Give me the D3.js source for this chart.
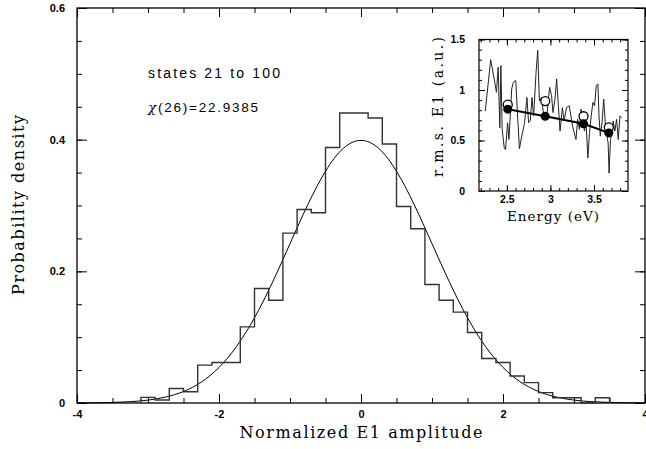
<!DOCTYPE html>
<html><head><meta charset="utf-8">
<script src="https://cdn.jsdelivr.net/npm/d3@7"></script>
<style>body{margin:0;background:#fff}svg{display:block}</style>
</head><body>
<script>
// ---- data ----
const binCenters = [-3.0,-2.8,-2.6,-2.4,-2.2,-2.0,-1.8,-1.6,-1.4,-1.2,-1.0,-0.8,-0.6,-0.4,-0.2,0.0,0.2,0.4,0.6,0.8,1.0,1.2,1.4,1.6,1.8,2.0,2.2,2.4,2.6,2.8,3.0,3.2,3.4];
const binValues  = [0.0086,0.0045,0.022,0.017,0.0576,0.0616,0.0616,0.1157,0.174,0.156,0.258,0.294,0.289,0.388,0.4405,0.4405,0.433,0.3935,0.2985,0.2647,0.18,0.156,0.138,0.107,0.0677,0.0616,0.041,0.031,0.0157,0.008,0.008,0,0.008];
const binWidth = 0.2;
const curveX = [-4,-3.75,-3.5,-3.25,-3,-2.75,-2.5,-2.25,-2,-1.75,-1.5,-1.25,-1,-0.75,-0.5,-0.25,0,0.25,0.5,0.75,1,1.25,1.5,1.75,2,2.25,2.5,2.75,3,3.25,3.5,3.75,4];
const curveY = [0.0001,0.0004,0.0009,0.0020,0.0044,0.0091,0.0175,0.0317,0.0540,0.0863,0.1295,0.1826,0.2420,0.3011,0.3521,0.3867,0.3989,0.3867,0.3521,0.3011,0.2420,0.1826,0.1295,0.0863,0.0540,0.0317,0.0175,0.0091,0.0044,0.0020,0.0009,0.0004,0.0001];
const xMajorTicks = [-4,-2,0,2,4];
const yMajorTicks = [0,0.2,0.4,0.6];
const insetE = [2.252,2.314,2.361,2.380,2.400,2.419,2.431,2.446,2.470,2.485,2.508,2.524,2.555,2.574,2.602,2.625,2.644,2.671,2.703,2.730,2.749,2.769,2.788,2.807,2.835,2.854,2.873,2.897,2.924,2.963,2.990,3.013,3.029,3.052,3.071,3.091,3.110,3.137,3.157,3.184,3.215,3.235,3.254,3.273,3.293,3.312,3.332,3.351,3.370,3.390,3.409,3.429,3.448,3.468,3.487,3.506,3.526,3.545,3.557,3.572,3.592,3.611,3.634,3.662,3.673,3.689,3.708,3.720,3.739,3.759,3.778,3.798,3.817];
const insetV = [0.79,1.30,1.077,0.977,1.226,0.626,1.243,0.610,0.426,0.410,0.676,0.510,1.010,1.077,1.093,0.710,0.420,0.543,0.676,0.926,0.676,0.693,0.926,0.743,1.176,1.393,0.893,0.926,0.743,0.777,1.027,0.943,0.777,0.910,1.110,0.843,0.593,0.826,0.693,0.826,0.843,0.743,0.643,0.576,0.510,0.710,0.610,0.810,0.726,0.593,0.676,0.326,0.576,0.743,0.877,0.843,1.043,1.060,0.743,0.543,0.676,0.910,0.610,0.476,0.177,0.510,0.576,0.693,0.593,0.710,0.510,0.743,0.726];
const openE = [2.51,2.94,3.38,3.67];
const openV = [0.855,0.89,0.74,0.63];
const fillE = [2.51,2.94,3.38,3.67];
const fillV = [0.81,0.74,0.665,0.575];
const insetXMajor = [2.5,3,3.5];
const insetYMajor = [0,0.5,1,1.5];
const insetYLabels = ["0","0.5","1","1.5"];

// ---- drawing ----
const W = 646, H = 449;
const svg = d3.select("body").append("svg").attr("width", W).attr("height", H);
const x = d3.scaleLinear().domain([-4,4]).range([77,645]);
const y = d3.scaleLinear().domain([0,0.6]).range([403,8]);
const lblFont = "'Liberation Sans', Arial, sans-serif";
const serif = "'DejaVu Serif', serif";

function styleAxis(g, fs){
  g.select(".domain").remove();
  g.selectAll(".tick line").attr("stroke","#000").attr("stroke-width",1);
  g.selectAll(".tick text").attr("font-family", lblFont).attr("font-weight","bold").attr("font-size", fs).attr("fill","#000");
}
const xMinor = d3.range(-4, 4.01, 0.5);
const yMinor = d3.range(0, 0.601, 0.05);
// minor ticks on all sides
svg.append("g").attr("transform","translate(0,403)").call(d3.axisBottom(x).tickValues(xMinor).tickSize(-5).tickFormat("")).call(styleAxis, 11);
svg.append("g").attr("transform","translate(0,8)").call(d3.axisTop(x).tickValues(xMinor).tickSize(-5).tickFormat("")).call(styleAxis, 11);
svg.append("g").attr("transform","translate(77,0)").call(d3.axisLeft(y).tickValues(yMinor).tickSize(-5).tickFormat("")).call(styleAxis, 11);
svg.append("g").attr("transform","translate(645,0)").call(d3.axisRight(y).tickValues(yMinor).tickSize(-5).tickFormat("")).call(styleAxis, 11);
// major ticks
svg.append("g").attr("transform","translate(0,403)").call(d3.axisBottom(x).tickValues(xMajorTicks).tickSize(-9).tickPadding(7).tickFormat(d=>String(d).replace("−","-"))).call(styleAxis, 11);
svg.append("g").attr("transform","translate(0,8)").call(d3.axisTop(x).tickValues(xMajorTicks).tickSize(-9).tickFormat("")).call(styleAxis, 11);
svg.append("g").attr("transform","translate(77,0)").call(d3.axisLeft(y).tickValues(yMajorTicks).tickSize(-10).tickPadding(12).tickFormat(d=>d===0?"0":d3.format(".1f")(d))).call(styleAxis, 11);
svg.append("g").attr("transform","translate(645,0)").call(d3.axisRight(y).tickValues(yMajorTicks).tickSize(-10).tickFormat("")).call(styleAxis, 11);
svg.append("rect").attr("x",77).attr("y",8).attr("width",568).attr("height",395).attr("fill","none").attr("stroke","#000").attr("stroke-width",1.3);

// Gaussian curve
svg.append("path").datum(curveX.map((v,i)=>[v,curveY[i]]))
  .attr("d", d3.line().x(d=>x(d[0])).y(d=>y(d[1])).curve(d3.curveNatural))
  .attr("fill","none").attr("stroke","#000").attr("stroke-width",1);

// histogram
const pts = [[binCenters[0]-binWidth/2, 0]];
binCenters.forEach((c,i)=>{ pts.push([c-binWidth/2, binValues[i]]); pts.push([c+binWidth/2, binValues[i]]); });
pts.push([binCenters[binCenters.length-1]+binWidth/2, 0]);
svg.append("path").datum(pts)
  .attr("d", d3.line().x(d=>x(d[0])).y(d=>y(d[1])))
  .attr("fill","none").attr("stroke","#333").attr("stroke-width",1.4);

// annotations
svg.append("text").attr("x",148).attr("y",78).attr("font-family",lblFont).attr("font-size",14)
  .attr("textLength",132).attr("lengthAdjust","spacing").text("states 21 to 100");
const chi = svg.append("text").attr("x",148).attr("y",112).attr("font-family",lblFont).attr("font-size",13.5)
  .attr("textLength",110).attr("lengthAdjust","spacing");
chi.append("tspan").attr("font-family","'DejaVu Serif', serif").attr("font-style","italic").text("χ");
chi.append("tspan").text("(26)=22.9385");

// axis titles
svg.append("text").attr("x",361).attr("y",438).attr("text-anchor","middle").attr("font-family",serif).attr("font-size",16)
  .attr("textLength",243).attr("lengthAdjust","spacing").text("Normalized E1 amplitude");
svg.append("text").attr("transform","translate(24,205) rotate(-90)").attr("text-anchor","middle").attr("font-family",serif).attr("font-size",16)
  .attr("textLength",180).attr("lengthAdjust","spacing").text("Probability density");

// ---- inset ----
const xi = d3.scaleLinear().domain([2.18,3.89]).range([479,628]);
const yi = d3.scaleLinear().domain([0,1.5]).range([191,39.5]);
svg.append("rect").attr("x",479).attr("y",39.5).attr("width",149).attr("height",151.5).attr("fill","#fff");
const xiMinor = d3.range(2.2, 3.89, 0.1);
const yiMinor = d3.range(0, 1.501, 0.1);
svg.append("g").attr("transform","translate(0,191)").call(d3.axisBottom(xi).tickValues(xiMinor).tickSize(-3).tickFormat("")).call(styleAxis,11);
svg.append("g").attr("transform","translate(0,39.5)").call(d3.axisTop(xi).tickValues(xiMinor).tickSize(-3).tickFormat("")).call(styleAxis,11);
svg.append("g").attr("transform","translate(479,0)").call(d3.axisLeft(yi).tickValues(yiMinor).tickSize(-3).tickFormat("")).call(styleAxis,11);
svg.append("g").attr("transform","translate(628,0)").call(d3.axisRight(yi).tickValues(yiMinor).tickSize(-3).tickFormat("")).call(styleAxis,11);
svg.append("g").attr("transform","translate(0,191)").call(d3.axisBottom(xi).tickValues(insetXMajor).tickSize(-6).tickPadding(5).tickFormat(d=>String(d))).call(styleAxis,10.5);
svg.append("g").attr("transform","translate(0,39.5)").call(d3.axisTop(xi).tickValues(insetXMajor).tickSize(-6).tickFormat("")).call(styleAxis,11);
svg.append("g").attr("transform","translate(479,0)").call(d3.axisLeft(yi).tickValues(insetYMajor).tickSize(-6).tickPadding(14).tickFormat((d,i)=>insetYLabels[i])).call(styleAxis,10.5);
svg.append("g").attr("transform","translate(628,0)").call(d3.axisRight(yi).tickValues(insetYMajor).tickSize(-6).tickFormat("")).call(styleAxis,11);
svg.append("rect").attr("x",479).attr("y",39.5).attr("width",149).attr("height",151.5).attr("fill","none").attr("stroke","#000").attr("stroke-width",1.2);

svg.append("path").datum(insetE.map((e,i)=>[e,insetV[i]]))
  .attr("d", d3.line().x(d=>xi(d[0])).y(d=>yi(d[1])))
  .attr("fill","none").attr("stroke","#222").attr("stroke-width",1);
svg.append("g").selectAll("circle").data(openE).join("circle")
  .attr("cx",(d)=>xi(d)).attr("cy",(d,i)=>yi(openV[i])).attr("r",4.5)
  .attr("fill","#fff").attr("stroke","#000").attr("stroke-width",1.3);
svg.append("path").datum(fillE.map((e,i)=>[e,fillV[i]]))
  .attr("d", d3.line().x(d=>xi(d[0])).y(d=>yi(d[1])))
  .attr("fill","none").attr("stroke","#000").attr("stroke-width",2);
svg.append("g").selectAll("circle").data(fillE).join("circle")
  .attr("cx",(d)=>xi(d)).attr("cy",(d,i)=>yi(fillV[i])).attr("r",4.5).attr("fill","#000");

svg.append("text").attr("x",553).attr("y",221).attr("text-anchor","middle").attr("font-family",serif).attr("font-size",13.5)
  .attr("textLength",92).attr("lengthAdjust","spacing").text("Energy (eV)");
svg.append("text").attr("transform","translate(443,107) rotate(-90)").attr("text-anchor","middle").attr("font-family",serif).attr("font-size",14)
  .attr("textLength",140).attr("lengthAdjust","spacing").text("r.m.s. E1 (a.u.)");
</script>
</body></html>
